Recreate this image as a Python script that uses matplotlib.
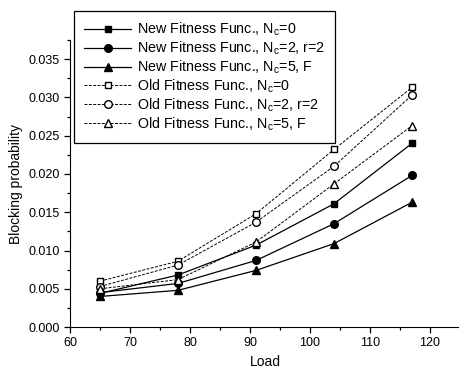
import numpy as np
import matplotlib
matplotlib.use('Agg')
import matplotlib.pyplot as plt
from matplotlib.ticker import MultipleLocator

plt.rcParams['font.family'] = ['Liberation Sans', 'DejaVu Sans']
plt.rcParams['mathtext.fontset'] = 'custom'
plt.rcParams['mathtext.rm'] = 'Liberation Sans'
plt.rcParams['mathtext.it'] = 'Liberation Sans'

load = [65, 78, 91, 104, 117]

new_nc0 = [0.0044, 0.0068, 0.0107, 0.0161, 0.0240]
new_nc2 = [0.0045, 0.0057, 0.0087, 0.0135, 0.0198]
new_nc5 = [0.0040, 0.0048, 0.0074, 0.0109, 0.0163]
old_nc0 = [0.0060, 0.0086, 0.0148, 0.0232, 0.0313]
old_nc2 = [0.0053, 0.0081, 0.0137, 0.0210, 0.0303]
old_nc5 = [0.0050, 0.0062, 0.0111, 0.0187, 0.0263]

labels = ['New Fitness Func., N$_\\mathrm{c}$=0',
          'New Fitness Func., N$_\\mathrm{c}$=2, r=2',
          'New Fitness Func., N$_\\mathrm{c}$=5, F',
          'Old Fitness Func., N$_\\mathrm{c}$=0',
          'Old Fitness Func., N$_\\mathrm{c}$=2, r=2',
          'Old Fitness Func., N$_\\mathrm{c}$=5, F']

fig = plt.figure(figsize=(4.6, 3.7), dpi=100)
ax = fig.add_axes([0.152, 0.116, 0.848, 0.776])

ax.plot(load, new_nc0, '-s', color='black', lw=0.9, ms=5, label=labels[0])
ax.plot(load, new_nc2, '-o', color='black', lw=0.9, ms=5.5, label=labels[1])
ax.plot(load, new_nc5, '-^', color='black', lw=0.9, ms=6, label=labels[2])
ax.plot(load, old_nc0, '--s', color='black', lw=0.7, ms=5, mfc='white', dashes=(3, 1.5), label=labels[3])
ax.plot(load, old_nc2, '--o', color='black', lw=0.7, ms=5.5, mfc='white', dashes=(3, 1.5), label=labels[4])
ax.plot(load, old_nc5, '--^', color='black', lw=0.7, ms=6, mfc='white', dashes=(3, 1.5), label=labels[5])

ax.set_xlim(60, 125)
ax.set_ylim(0, 0.0375)
ax.set_xticks([60, 70, 80, 90, 100, 110, 120])
ax.set_yticks(np.arange(0, 0.036, 0.005))
ax.yaxis.set_major_formatter(plt.FormatStrFormatter('%.3f'))
ax.xaxis.set_minor_locator(MultipleLocator(5))
ax.yaxis.set_minor_locator(MultipleLocator(0.0025))
ax.tick_params(which='both', direction='out', labelsize=9, width=0.9)
ax.tick_params(which='major', length=4)
ax.tick_params(which='minor', length=2.5)
ax.spines['top'].set_visible(False)
ax.spines['right'].set_visible(False)

ax.set_xlabel('Load', fontsize=10)
ax.set_ylabel('Blocking probability', fontsize=10)

leg = ax.legend(loc='upper left', bbox_to_anchor=(74 / 460, 1 - 11 / 370),
                bbox_transform=fig.transFigure, borderaxespad=0,
                fontsize=10.3, handlelength=3.3,
                fancybox=False, edgecolor='black', framealpha=1,
                labelspacing=0.1, borderpad=0.7, handletextpad=0.4)
leg.get_frame().set_linewidth(0.9)

fig.savefig('out.png', dpi=100)
